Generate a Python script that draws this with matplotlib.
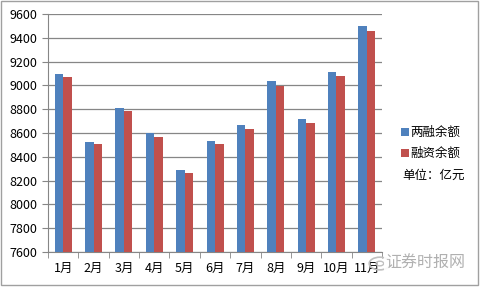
import matplotlib
matplotlib.use("Agg")
import matplotlib.pyplot as plt
import numpy as np
from matplotlib.patches import Rectangle, Circle

plt.rcParams['font.family'] = ['Noto Sans CJK SC', 'DejaVu Sans']

months = ["1月", "2月", "3月", "4月", "5月", "6月", "7月", "8月", "9月", "10月", "11月"]
liangrong = [9095, 8525, 8810, 8597, 8289, 8533, 8667, 9037, 8718, 9115, 9499]
rongzi = [9071, 8508, 8787, 8569, 8264, 8508, 8634, 8997, 8684, 9079, 9457]
yticks = [7600, 7800, 8000, 8200, 8400, 8600, 8800, 9000, 9200, 9400, 9600]

blue = "#4F81BD"
red = "#C0504D"

fig = plt.figure(figsize=(4.82, 2.88), dpi=100)
fig.patches.append(Rectangle((0.002, 0.01), 0.99, 0.985, transform=fig.transFigure,
                             fill=False, edgecolor="#A0A0A0", linewidth=1.0))
ax = fig.add_axes([0.0996, 0.125, 0.693, 0.826])

x = np.arange(len(months))
w = 0.28
ax.bar(x - w / 2, liangrong, width=w, color=blue, zorder=3, label="两融余额")
ax.bar(x + w / 2, rongzi, width=w, color=red, zorder=3, label="融资余额")

ax.set_ylim(7600, 9600)
ax.set_xlim(-0.5, len(months) - 0.5)
ax.set_yticks(yticks)
ax.set_yticklabels([str(v) for v in yticks], fontsize=9)
ax.yaxis.grid(True, color="#868686", linewidth=0.9, zorder=0)
ax.set_xticks(x)
ax.set_xticklabels(months, fontsize=9)
ax.tick_params(axis='x', length=0, pad=7)
ax.set_xticks(np.arange(-0.5, len(months), 1.0), minor=True)
ax.tick_params(axis='x', which='minor', length=4, color="#868686", direction='out')
ax.tick_params(axis='y', length=4, color="#868686", direction='out', pad=4)
for s in ["top", "right"]:
    ax.spines[s].set_visible(False)
for s in ["left", "bottom"]:
    ax.spines[s].set_color("#868686")

fig.legend(loc="upper left", bbox_to_anchor=(0.822, 0.58), frameon=False,
           fontsize=9, handlelength=0.6, handleheight=0.6, handletextpad=0.15,
           labelspacing=0.65, borderaxespad=0)
fig.text(0.834, 0.39, "单位：亿元", fontsize=9, va="center", ha="left")

fig.text(0.965, 0.085, "证券时报网", fontsize=11.5, color="#B0B0B0", ha="right", va="center",
         bbox=dict(facecolor="white", edgecolor="none", pad=1, alpha=0.9))
fig.patches.append(Circle((0.788, 0.085), 0.022, transform=fig.transFigure,
                          fill=False, edgecolor="#C0C0C0", linewidth=1.2))
fig.patches.append(Circle((0.788, 0.085), 0.008, transform=fig.transFigure,
                          fill=False, edgecolor="#C0C0C0", linewidth=1.0))

fig.savefig("out.png", dpi=100)
